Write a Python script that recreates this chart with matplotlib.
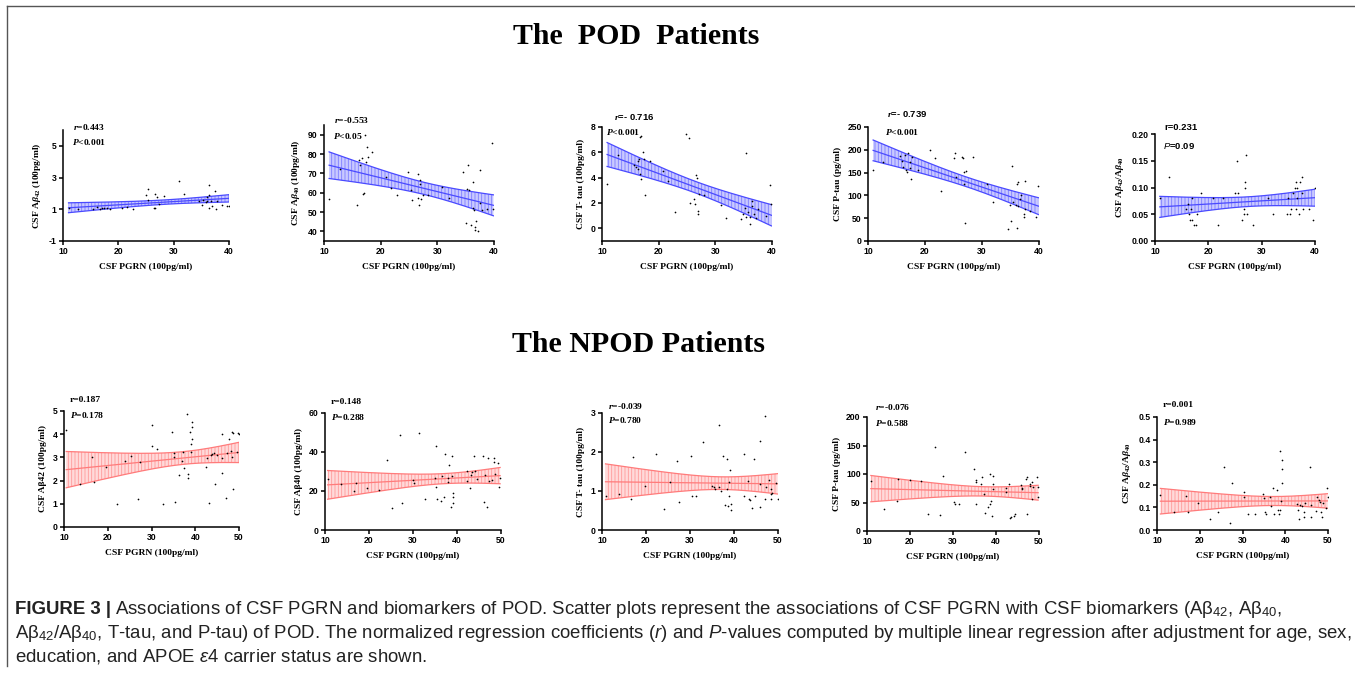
import numpy as np
import matplotlib
matplotlib.use("Agg")
import matplotlib.pyplot as plt
from matplotlib.lines import Line2D
from matplotlib.ticker import FormatStrFormatter

plt.rcParams["mathtext.fontset"] = "custom"
plt.rcParams["mathtext.rm"] = "Liberation Sans"
plt.rcParams["mathtext.it"] = "Liberation Serif:italic:bold"
plt.rcParams["mathtext.bf"] = "Liberation Serif:bold"
plt.rcParams["mathtext.sf"] = "Liberation Sans:italic"
plt.rcParams["hatch.linewidth"] = 0.6
plt.rcParams["axes.unicode_minus"] = False

# ---- data ----
# POD patients (top row)
pod_ab42_x = [11, 12.7, 15.5, 16.2, 16.6, 17.1, 17.4, 18, 18.5, 20.7, 21.6, 22.7, 25, 25.4, 25.3, 26.4,
              26.6, 26.9, 26.7, 27.3, 28.3, 31, 31.9, 34.6, 35.1, 35.3, 35.8, 36.1, 36.3, 36.3, 36.4,
              36.7, 37, 37.5, 37.7, 37.9, 38.7, 39.6, 40, 36]
pod_ab42_y = [1.1, 1.0, 1.0, 1.15, 1.0, 1.05, 1.1, 1.05, 1.0, 1.1, 1.15, 1.0, 1.9, 2.3, 1.6, 1.1,
              1.95, 1.75, 1.05, 1.35, 1.85, 2.8, 1.95, 1.55, 1.3, 1.6, 1.45, 1.5, 2.55, 1.9, 1.1,
              1.55, 1.2, 2.15, 1.0, 1.55, 1.25, 1.2, 1.2, 1.75]

pod_ab40_x = [10.9, 12.8, 15.9, 16.1, 16.4, 16.7, 16.9, 17.1, 17.2, 17.4, 17.6, 17.7, 18.5, 21, 21.8,
              22.8, 24.9, 25.4, 25.6, 26.5, 26.6, 26.8, 26.9, 27, 27.1, 27.5, 28.4, 30.9, 32, 34.5,
              35.1, 35.3, 35.4, 35.5, 36, 36.3, 36.3, 36.5, 36.6, 36.7, 36.9, 37.2, 37.5, 37.6,
              37.8, 38.8, 39.6, 39.9]
pod_ab40_y = [56.8, 72.3, 53.8, 76.7, 74.5, 78, 59.1, 60, 90, 75.9, 83.8, 78.5, 81.2, 67.9, 62.6,
              58.6, 70.9, 61.2, 56.1, 69.7, 57.3, 53.8, 66.7, 64.4, 56.8, 58.6, 58.6, 63.1, 57.3, 70.9,
              44.4, 62.1, 74.5, 61.2, 43.2, 65.6, 52, 51.1, 40.5, 42, 45.3, 40.2, 71.8, 54.7,
              51.1, 51.5, 85.6, 51.5]

pod_ttau_x = [10.9, 12.8, 15.7, 16, 16.3, 16.4, 16.6, 16.7, 16.8, 16.9, 16.7, 17.2, 17.4, 17.6, 18.5,
              20.8, 21.7, 22.8, 24.9, 25.3, 25.5, 26.3, 26.4, 26.6, 26.8, 26.9, 27, 27.2, 28, 31,
              31.97, 34.5, 34.9, 35.4, 35.2, 35.5, 35.8, 36.1, 36.2, 36.4, 36.5, 36.8, 37.2, 37.5,
              39, 39.6, 39.9]
pod_ttau_y = [3.5, 5.8, 5.0, 4.87, 4.7, 5.3, 5.5, 7.2, 7.26, 3.9, 4.3, 6.06, 5.5, 2.6, 5.3,
              4.5, 3.7, 1.3, 7.45, 7.13, 2.0, 2.3, 1.94, 4.2, 4.0, 1.33, 1.14, 2.7, 2.6, 1.86,
              0.8, 0.7, 1.14, 5.93, 1.6, 0.88, 1.28, 0.88, 0.35, 2.13, 1.8, 1.14, 0.8, 1.54,
              1.0, 3.4, 1.89]

pod_ptau_x = [10.9, 12.7, 15.7, 15.95, 16.2, 16.5, 16.7, 16.9, 17.1, 17.3, 17.4, 17.5, 17.7, 18.7,
              20.8, 21.8, 22.8, 25, 25.3, 25.5, 26.5, 26.6, 26.8, 26.9, 27, 27.2, 28.4, 30.8, 31.9,
              34.5, 34.9, 35.1, 35.3, 35.5, 36, 36.2, 36.3, 36.4, 36.2, 36.7, 36.9, 37.3, 37.4,
              37.6, 37.6, 38.4, 39.5, 39.9]
pod_ptau_y = [156, 174, 187, 176, 163, 189, 156, 152, 193, 174, 160, 136, 185, 156,
              199, 182, 110, 182, 194, 141, 185, 183, 152, 126, 40, 154, 185, 124, 86,
              26, 79, 43, 165, 86, 79, 126, 130, 76, 29, 93, 101, 60, 53,
              132, 71, 65, 52, 121]

pod_ratio_x = [10.9, 12.7, 15.75, 16.1, 16.4, 16.6, 16.75, 17, 17, 17.4, 17.7, 17.8, 18.6, 20.9, 21.9,
               22.8, 25, 25.3, 25.6, 26.4, 26.6, 26.75, 26.9, 26.9, 27, 27.2, 28.4, 31.1, 32.1, 34.7,
               35, 35.3, 35.5, 35.9, 36.25, 36.4, 36.6, 36.4, 37, 37.2, 37.5, 37.6, 37.8, 38.9, 39.7,
               40, 36.7]
pod_ratio_y = [0.08, 0.12, 0.06, 0.07, 0.05, 0.04, 0.06, 0.08, 0.04, 0.03, 0.03, 0.05, 0.09, 0.08, 0.03,
               0.08, 0.09, 0.15, 0.09, 0.04, 0.05, 0.06, 0.10, 0.11, 0.16, 0.05, 0.03, 0.08, 0.05, 0.05,
               0.08, 0.05, 0.06, 0.09, 0.10, 0.11, 0.08, 0.06, 0.05, 0.11, 0.12, 0.09, 0.06, 0.06, 0.04,
               0.10, 0.10]

# NPOD patients (bottom row)
npod_ab42_x = [10.5, 13.6, 16.5, 16.9, 19.5, 22.2, 23.9, 25.4, 26.9, 27.3, 30.2, 30.1, 31.3, 32.7, 34.7,
               35.1, 35.2, 35.3, 36.3, 36.9, 37.1, 37.4, 38, 38.4, 38.4, 38.8, 39, 39, 39.2, 39.2, 39.3,
               42.4, 42.6, 43.1, 43.5, 43.9, 44.3, 44.5, 44.9, 46, 46, 46.2, 47, 47.2, 47.6, 48.1,
               48.3, 48.5, 48.7, 48.7, 49.6, 49.8, 50]
npod_ab42_y = [4.17, 1.86, 3.0, 1.96, 2.57, 0.99, 2.84, 3.07, 1.2, 2.81, 4.41, 3.49, 3.37, 0.99, 4.1,
               3.2, 3.03, 1.06, 2.24, 2.86, 3.24, 2.56, 4.89, 2.27, 2.13, 4.1, 3.57, 3.24, 4.53, 4.29, 3.81,
               2.57, 2.99, 1.03, 3.1, 3.13, 3.2, 1.84, 3.09, 4.03, 2.99, 2.34, 1.27, 3.17, 3.81, 3.27,
               3.03, 4.1, 4.06, 1.63, 3.24, 4.07, 4.03]

npod_ab40_x = [10.6, 13.6, 16.7, 17, 19.6, 22.3, 24, 25.3, 27, 27.4, 30.1, 30.2, 31.4, 32.7, 35,
               35.2, 35.2, 35.4, 36.3, 36.5, 37, 37.3, 37.9, 38, 38.2, 38.6, 38.8, 38.9, 39, 39.2, 39.2,
               42.2, 42.3, 43, 43.2, 43.5, 43.9, 44.2, 44.5, 46, 46.1, 46.4, 46.9, 47, 47.3, 48,
               48.3, 48.5, 48.6, 49.4, 49.6, 49.8]
npod_ab40_y = [25.9, 23.4, 20.1, 24.2, 21.7, 20.5, 36.1, 11.1, 48.6, 13.6, 25.6, 23.9, 50, 15.7, 26.8,
               21.8, 43, 15.9, 15, 27.6, 16.7, 39.2, 26.9, 24.7, 33.2, 11.9, 38, 27.6, 14, 18.8, 17,
               30.3, 25.2, 21.7, 28.1, 29.8, 38, 30.2, 25.9, 38, 14.2, 28.1, 11.6, 36.7, 25.2, 25.6,
               36.7, 35, 28.5, 34.6, 21.8, 26.8]

npod_ttau_x = [10.8, 13.8, 16.7, 17, 19.7, 22.3, 24.2, 25.5, 27, 27.4, 30.2, 30.5, 31.4, 33, 35,
               35.4, 35.6, 36.5, 36.7, 37.1, 37.5, 38, 38.4, 38.5, 38.6, 38.8, 38.9, 39.2, 39.3, 39.3,
               42.2, 42.3, 43.1, 43.3, 43.7, 44.2, 44.5, 44.8, 45.8, 46, 46, 47, 47.1, 47.3, 48,
               48.3, 48.5, 48.5, 48.6, 49.6, 49.9]
npod_ttau_y = [0.87, 0.92, 0.79, 1.87, 1.13, 1.95, 0.53, 1.23, 1.76, 0.71, 1.9, 0.86, 0.87, 2.25, 1.13,
               1.09, 1.05, 2.7, 1.09, 0.99, 1.9, 0.64, 1.05, 1.82, 0.62, 0.86, 1.22, 1.54, 0.66, 0.51,
               1.95, 0.86, 1.26, 0.79, 0.77, 0.57, 1.82, 0.86, 2.27, 1.17, 0.6, 2.93, 0.79, 1.09, 1.29,
               0.92, 1.05, 0.79, 0.96, 1.2, 0.8]

npod_ptau_x = [10.9, 14, 17, 17.3, 19.9, 22.5, 24.3, 25.7, 27, 27.6, 30.3, 30.5, 31.5, 32.8, 34.9,
               35.3, 35.4, 35.4, 36.5, 36.7, 37.2, 37.5, 38.1, 38.5, 38.6, 38.8, 39, 39.2, 39.2, 39.4,
               42.3, 42.3, 43.1, 43.3, 43.6, 44.2, 44.4, 45.8, 46, 46.1, 47, 47.1, 47.3, 47.9, 48,
               48.3, 48.4, 48.7, 49.6, 49.8, 49.8]
npod_ptau_y = [88, 39, 53, 92, 89, 88, 29, 148, 28, 96, 51, 47, 47, 138, 108,
               86, 89, 47, 82, 94, 65, 32, 42, 100, 48, 52, 26, 82, 96, 73,
               76, 69, 82, 22, 25, 27, 29, 81, 76, 73, 91, 29, 94, 79, 82,
               57, 86, 78, 94, 60, 78]

npod_ratio_x = [10.8, 13.9, 16.9, 17.2, 19.7, 22.5, 24.2, 25.6, 27.1, 27.5, 30.3, 30.4, 31.4, 33, 34.9,
                35.1, 35.3, 35.5, 36.5, 36.7, 37.1, 37.4, 38.1, 38.4, 38.6, 38.8, 38.8, 39.1, 39.2, 39.2,
                39.2, 42.7, 42.9, 43.3, 43.5, 43.9, 44.3, 44.5, 44.7, 45.9, 46.1, 46, 47.3, 47.4, 47.8,
                48.2, 48.4, 48.6, 48.8, 49.6, 49.7, 49.9]
npod_ratio_y = [0.157, 0.078, 0.15, 0.078, 0.118, 0.049, 0.078, 0.279, 0.029, 0.209, 0.147, 0.169, 0.069,
                0.069, 0.159, 0.14, 0.078, 0.069, 0.147, 0.107, 0.188, 0.069, 0.179, 0.088, 0.069, 0.348,
                0.088, 0.128, 0.309, 0.269, 0.209, 0.115, 0.088, 0.049, 0.11, 0.107, 0.078, 0.059, 0.118,
                0.279, 0.059, 0.11, 0.085, 0.147, 0.132, 0.125, 0.078, 0.059, 0.118, 0.098, 0.188, 0.147]

ylabels_pod = [r"CSF A$\beta_{\mathbf{42}}$ (100pg/ml)", r"CSF A$\beta_{\mathbf{40}}$ (100pg/ml)",
               "CSF T- tau (100pg/ml)", "CSF P-tau (pg/ml)",
               r"CSF A$\beta_{\mathbf{42}}$/A$\beta_{\mathbf{40}}$"]
ylabels_npod = ["CSF Aβ42 (100pg/ml)", "CSF Aβ40 (100pg/ml)", "CSF T- tau (100pg/ml)",
                "CSF P-tau (pg/ml)", r"CSF A$\beta_{\mathbf{42}}$/A$\beta_{\mathbf{40}}$"]
r_pod = [r"$r$=0.443", r"$r$=-0.553", r"$r$=- 0.716", r"$r$=- 0.739", "r=0.231"]
p_pod = [r"$P$<0.001", r"$P$<0.05", r"$P$<0.001", r"$P$<0.001", r"$\mathsf{P}$=0.09"]
r_npod = ["r=0.187", "r=0.148", r"$r$=-0.039", r"$r$=-0.076", "r=0.001"]
p_npod = [r"$P$=0.178", r"$P$=0.288", r"$P$=0.780", r"$P$=0.588", r"$P$=0.989"]

# ---- layout (pixel boxes: left, right, top, bottom) ----
W, H = 1355, 674
fig = plt.figure(figsize=(W / 100, H / 100), dpi=100)


def box(l, r, t, b):
    return [l / W, 1 - b / H, (r - l) / W, (b - t) / H]


def ftext(x, y, s, **kw):
    return fig.text(x / W, 1 - y / H, s, **kw)


pod_boxes = [(63, 229, 130, 241), (324, 494, 125, 241), (602, 772, 127, 241),
             (868, 1039, 127, 241), (1155, 1315, 134, 241)]
npod_boxes = [(64, 239, 411, 527), (325, 501, 413, 530), (602, 778, 413, 530),
              (867, 1039, 417, 531), (1157, 1328, 417, 530)]
pod_ylim = [(-1, 6), (35, 95), (-1, 8), (0, 250), (0, 0.2)]
pod_yticks = [[-1, 1, 3, 5], [40, 50, 60, 70, 80, 90], [0, 2, 4, 6, 8],
              [0, 50, 100, 150, 200, 250], [0, 0.05, 0.10, 0.15, 0.20]]
npod_ylim = [(0, 5), (0, 60), (0, 3), (0, 200), (0, 0.5)]
npod_yticks = [[0, 1, 2, 3, 4, 5], [0, 20, 40, 60], [0, 1, 2, 3],
               [0, 50, 100, 150, 200], [0, 0.1, 0.2, 0.3, 0.4, 0.5]]
pod_rpos = [(73, 127, 72, 142), (334, 120, 333, 136), (614, 117, 606, 132),
            (887, 114, 885, 132), (1164, 128, 1163, 146)]
npod_rpos = [(70, 400, 70, 415), (331, 402, 331, 417), (608, 406, 608, 420),
             (875, 407, 875, 423), (1163, 405, 1163, 422)]

pod_x = [pod_ab42_x, pod_ab40_x, pod_ttau_x, pod_ptau_x, pod_ratio_x]
pod_y = [pod_ab42_y, pod_ab40_y, pod_ttau_y, pod_ptau_y, pod_ratio_y]
npod_x = [npod_ab42_x, npod_ab40_x, npod_ttau_x, npod_ptau_x, npod_ratio_x]
npod_y = [npod_ab42_y, npod_ab40_y, npod_ttau_y, npod_ptau_y, npod_ratio_y]

serif = "Liberation Serif"
sans = "Liberation Sans"


def panel(bx, x, y, xlim, xticks, ylim, yticks, ylabel, colors, fmt=None):
    line_c, fill_c, hatch_c = colors
    ax = fig.add_axes(box(*bx))
    x = np.asarray(x)
    y = np.asarray(y)
    # linear regression with 95% confidence band
    slope, icpt = np.polyfit(x, y, 1)
    n = len(x)
    resid = y - (slope * x + icpt)
    s = np.sqrt(np.sum(resid ** 2) / (n - 2))
    sxx = np.sum((x - x.mean()) ** 2)
    xs = np.linspace(x.min(), x.max(), 200)
    fit = slope * xs + icpt
    half = 2.01 * s * np.sqrt(1 / n + (xs - x.mean()) ** 2 / sxx)
    ax.fill_between(xs, fit - half, fit + half, facecolor=fill_c, linewidth=0, zorder=1)
    ax.fill_between(xs, fit - half, fit + half, facecolor="none", edgecolor=hatch_c,
                    hatch="|||||", linewidth=0, zorder=1.5)
    ax.plot(xs, fit + half, color=line_c, lw=0.9, zorder=2)
    ax.plot(xs, fit - half, color=line_c, lw=0.9, zorder=2)
    ax.plot(xs, fit, color=line_c, lw=0.9, zorder=2)
    ax.scatter(x, y, s=1.5, color="black", linewidths=0, zorder=3)
    ax.set_xlim(*xlim)
    ax.set_ylim(*ylim)
    ax.set_xticks(xticks)
    ax.set_yticks(yticks)
    if fmt:
        ax.yaxis.set_major_formatter(FormatStrFormatter(fmt))
    for side in ["top", "right"]:
        ax.spines[side].set_visible(False)
    for side in ["left", "bottom"]:
        ax.spines[side].set_linewidth(1.1)
    ax.tick_params(direction="out", length=3, width=1.1, pad=1.5)
    for lab in ax.get_xticklabels() + ax.get_yticklabels():
        lab.set_fontfamily(sans)
        lab.set_fontweight("bold")
        lab.set_fontsize(6.2)
    ax.set_xlabel("CSF PGRN (100pg/ml)", fontfamily=serif, fontweight="bold",
                  fontsize=6.8, labelpad=5)
    ax.set_ylabel(ylabel, fontfamily=serif, fontweight="bold", fontsize=6.8, labelpad=4)
    ax.patch.set_alpha(0)
    return ax


blue = ("#4a4aff", "#c9c9ff", "#7d7dff")
red = ("#ff7b7b", "#ffdada", "#ff9a9a")
fmts = [None, None, None, None, "%.2f"]
fmts2 = [None, None, None, None, "%.1f"]

for i in range(5):
    panel(pod_boxes[i], pod_x[i], pod_y[i], (10, 40), [10, 20, 30, 40], pod_ylim[i],
          pod_yticks[i], ylabels_pod[i], blue, fmts[i])
    panel(npod_boxes[i], npod_x[i], npod_y[i], (10, 50), [10, 20, 30, 40, 50], npod_ylim[i],
          npod_yticks[i], ylabels_npod[i], red, fmts2[i])
    fam = sans if i in (2, 3, 4) else serif
    rx, ry, px, py = pod_rpos[i]
    ftext(rx, ry, r_pod[i], fontfamily=fam, fontweight="bold", fontsize=6.8, va="center")
    ftext(px, py, p_pod[i], fontfamily=sans if i == 4 else serif, fontweight="bold",
          fontsize=6.8, va="center")
    rx, ry, px, py = npod_rpos[i]
    ftext(rx, ry, r_npod[i], fontfamily=serif, fontweight="bold", fontsize=6.8, va="center")
    ftext(px, py, p_npod[i], fontfamily=serif, fontweight="bold", fontsize=6.8, va="center")

# group titles
ftext(636, 36, "The  POD  Patients", fontfamily=serif, fontweight="bold", fontsize=21.5,
      ha="center", va="center")
ftext(639, 345, "The NPOD Patients", fontfamily=serif, fontweight="bold", fontsize=21.5,
      ha="center", va="center")

# frame lines
fig.add_artist(Line2D([7 / W, 1.0], [1 - 6 / H, 1 - 6 / H], color="#555555", lw=1.0))
fig.add_artist(Line2D([7 / W, 7 / W], [1 - 6 / H, 1 - 666 / H], color="#555555", lw=1.0))

# caption
cap_fs = 13.4
renderer = fig.canvas.get_renderer()
t0 = ftext(15, 609, "FIGURE 3 |", fontfamily=sans, fontweight="bold", fontsize=cap_fs,
           va="center", color="#222222")
w0 = t0.get_window_extent(renderer).width
ftext(15 + w0 + 4, 609,
      r"Associations of CSF PGRN and biomarkers of POD. Scatter plots represent the associations "
      r"of CSF PGRN with CSF biomarkers (Aβ$_{42}$, Aβ$_{40}$,",
      fontfamily=sans, fontsize=cap_fs, va="center", color="#222222")
ftext(15, 633,
      r"Aβ$_{42}$/Aβ$_{40}$, T-tau, and P-tau) of POD. The normalized regression coefficients "
      r"($\mathsf{r}$) and $\mathsf{P}$-values computed by multiple linear regression after "
      r"adjustment for age, sex,",
      fontfamily=sans, fontsize=cap_fs, va="center", color="#222222")
ftext(15, 657, r"education, and APOE $\mathsf{\varepsilon}$4 carrier status are shown.",
      fontfamily=sans, fontsize=cap_fs, va="center", color="#222222")

fig.savefig("out.png", dpi=100)
